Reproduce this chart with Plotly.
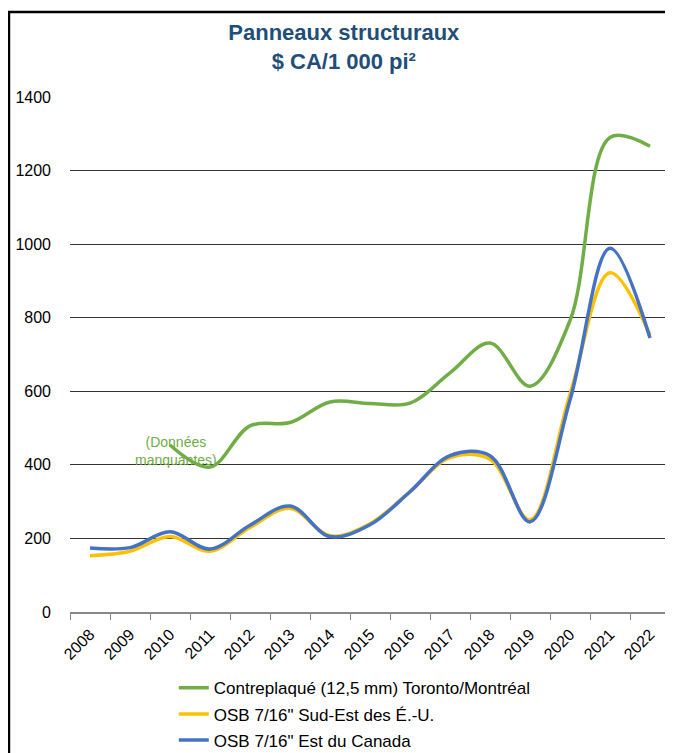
import plotly.graph_objects as go

# categories and values
years = ["2008", "2009", "2010", "2011", "2012", "2013", "2014", "2015",
         "2016", "2017", "2018", "2019", "2020", "2021", "2022"]

contreplaque = [None, None, 454, 394, 506, 515, 571, 567,
                568, 650, 731, 614, 792, 1290, 1266]
osb_se_us = [153, 165, 205, 165, 230, 282, 207, 240,
             327, 420, 415, 250, 592, 922, 753]
osb_est_ca = [174, 175, 218, 171, 236, 288, 205, 237,
              327, 425, 425, 245, 576, 989, 745]

names = ["Contreplaqué (12,5 mm) Toronto/Montréal",
         "OSB 7/16\" Sud-Est des É.-U.",
         "OSB 7/16\" Est du Canada"]
colors = ["#70AD47", "#FFC000", "#4472C4"]

FONT = "Liberation Sans Narrow, Arial Narrow, Liberation Sans, Arial"

fig = go.Figure()
for i, (vals, name, col) in enumerate(zip([contreplaque, osb_se_us, osb_est_ca], names, colors)):
    fig.add_trace(go.Scatter(x=years, y=vals, name=name, mode="lines",
                             legendgroup="g%d" % i,
                             line=dict(color=col, width=3.5, shape="spline", smoothing=1),
                             connectgaps=False))

# x=2 -> index of "2010" on the category axis
fig.add_annotation(x=2, y=438, text="(Données<br>manquantes)", showarrow=False,
                   xshift=6, font=dict(family=FONT, size=14, color="#70AD47"))

# outer frame of the chart
fig.add_shape(type="rect", xref="paper", yref="paper",
              x0=-0.1017, x1=1.02, y0=-0.3, y1=1.165,
              line=dict(color="black", width=2.5))

# page body has an 8px margin, so the figure is a bit smaller than the window
fig.update_layout(
    width=665, height=745,
    margin=dict(l=62, r=3, t=89, b=141, autoexpand=False),
    paper_bgcolor="white", plot_bgcolor="white",
    font=dict(family=FONT, size=16, color="black"),
    title=dict(text="<b>Panneaux structuraux<br>$ CA/1 000 pi²</b>",
               x=0.505, xanchor="center", y=0.957, yanchor="top",
               font=dict(family=FONT, size=22, color="#1F4E79")),
    showlegend=True,
    legend=dict(orientation="v", x=0.173, xanchor="left",
                yref="container", y=0.111, yanchor="top",
                font=dict(family=FONT, size=17), tracegroupgap=1,
                bgcolor="rgba(0,0,0,0)"),
)

fig.update_xaxes(type="category", range=[-0.5, 14.5], tickson="boundaries",
                 ticks="outside", ticklen=6, tickcolor="#888", showline=True,
                 linecolor="#888", linewidth=1.5, showgrid=False, tickangle=-45,
                 ticklabelstandoff=5, tickfont=dict(family=FONT, size=16))
fig.update_yaxes(range=[0, 1400], dtick=200, showgrid=True, gridcolor="#333",
                 gridwidth=1, zeroline=False, showline=False,
                 ticklabelstandoff=18, tickfont=dict(family=FONT, size=16))

fig.write_html("out.html")
